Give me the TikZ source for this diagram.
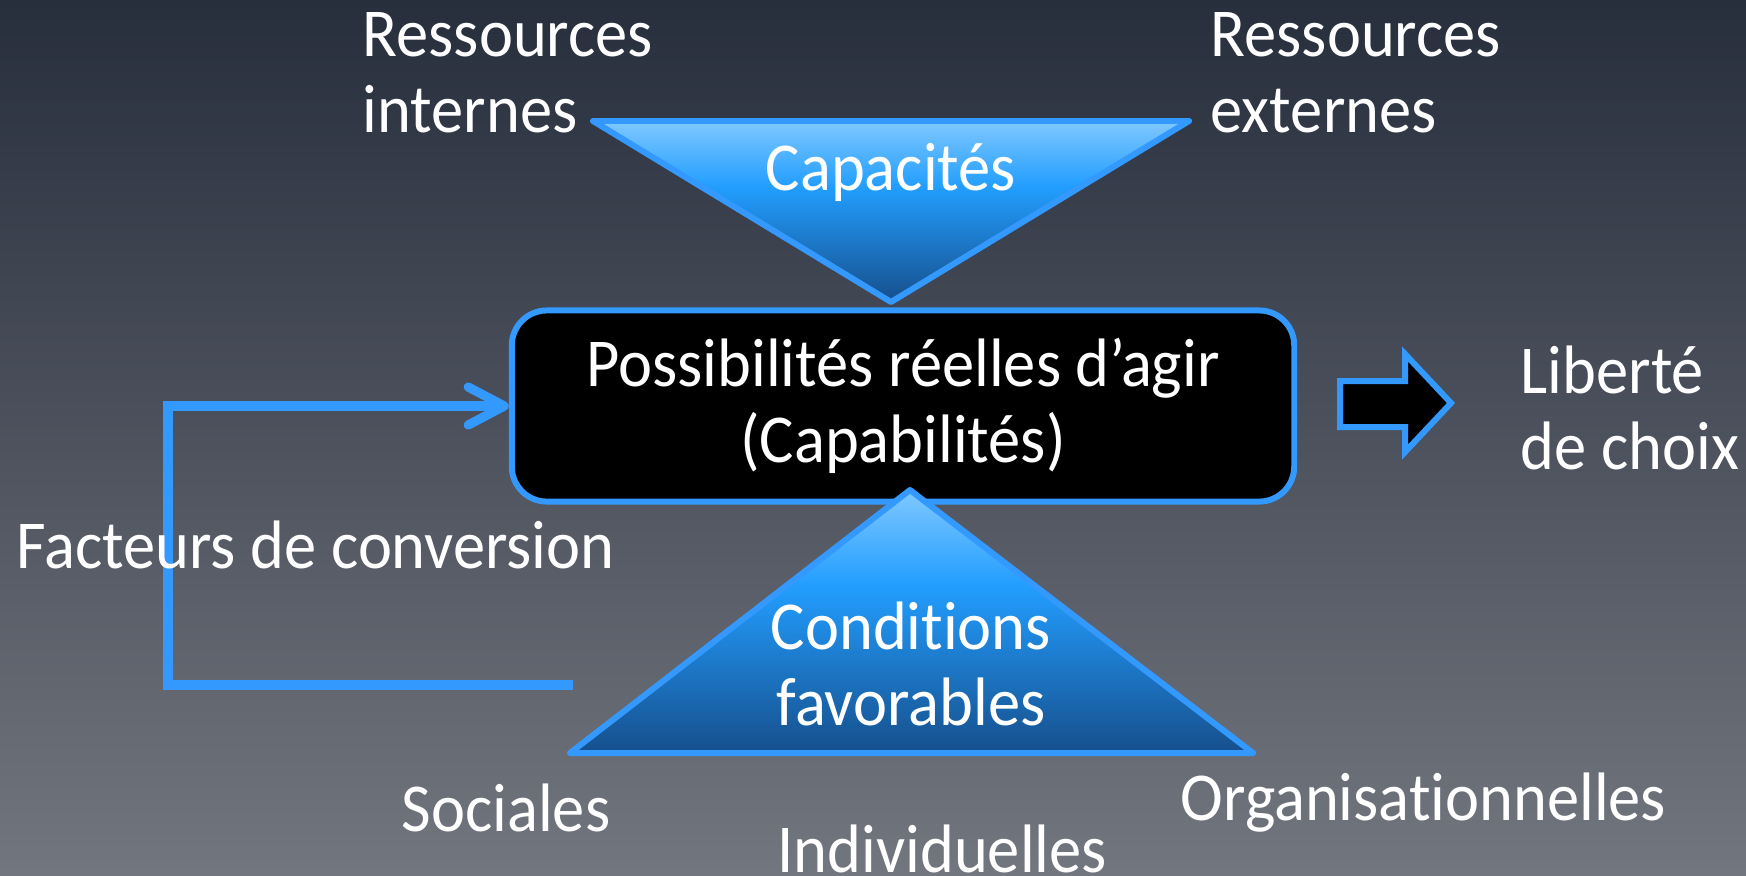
\documentclass[tikz,border=0pt]{standalone}
\usepackage{fontspec}
\setmainfont{Carlito}[FakeStretch=0.94,Ligatures=NoCommon]
\usetikzlibrary{arrows.meta}
\definecolor{fondhaut}{HTML}{272E3C}
\definecolor{fondbas}{HTML}{72767E}
\definecolor{bleu}{HTML}{3399FF}
\definecolor{bleuclair}{HTML}{80C8FF}
\definecolor{bleumoyen}{HTML}{229EFF}
\definecolor{bleufonce}{HTML}{164F8C}
\pgfdeclareverticalshading{degrade}{100bp}{color(0bp)=(bleufonce); color(25bp)=(bleufonce); color(57bp)=(bleumoyen); color(75bp)=(bleuclair); color(100bp)=(bleuclair)}

\begin{document}
\begin{tikzpicture}[x=0.01cm,y=-0.01cm]
        \tikzstyle{texte}=[text=white,inner sep=0pt,font=\fontsize{19.5}{21.6}\selectfont]
        \tikzstyle{triangle}=[draw=bleu,line width=1.7pt,line join=round,shading=degrade]
        \tikzstyle{boite}=[texte,draw=bleu,fill=black,line width=1.7pt,rounded corners=0.35cm,minimum width=7.82cm,minimum height=1.91cm,align=center]
        \tikzstyle{retour}=[draw=bleu,line width=2.6pt,-{Straight Barb[length=0.36cm,width=0.38cm,round]}]
        \tikzstyle{fleche}=[draw=bleu,fill=black,line width=1.7pt]
        \clip (0,0) rectangle (1746,875);
        \shade[top color=fondhaut,bottom color=fondbas] (0,0) rectangle (1746,875);
        % triangle du haut
        \coordinate (h1) at (593,121);
        \coordinate (h2) at (1189,121);
        \coordinate (h3) at (891,302);
        \shade[triangle] (h1) -- (h2) -- (h3) -- cycle;
        % possibilites
        \node[boite] (possib) at (903,406) {Possibilités réelles d’agir\\(Capabilités)};
        % triangle du bas
        \coordinate (b1) at (910,490);
        \coordinate (b2) at (570,753);
        \coordinate (b3) at (1253,753);
        \shade[triangle] (b1) -- (b3) -- (b2) -- cycle;
        % facteurs de conversion
        \coordinate (depart) at (573,685);
        \coordinate (coin) at (168,685);
        \draw[retour] (depart) -- (coin) |- (possib.west);
        \draw[fleche] (1340,381) -- (1405,381) -- (1405,354) -- (1451,403) -- (1405,452) -- (1405,427) -- (1340,427) -- cycle;
        \node[texte,anchor=base west,align=left] (resint) at (362,132) {Ressources\\internes};
        \node[texte,anchor=base west,align=left] (resext) at (1210,132) {Ressources\\externes};
        \node[texte,anchor=base] (capa) at (891,190) {Capacités};
        \node[texte,anchor=base west,align=left] (liberte) at (1520,469) {Liberté\\de choix};
        \node[texte,anchor=base west] (facteurs) at (16,568) {Facteurs de conversion};
        \node[texte,anchor=base,align=center] (cond) at (911,725) {Conditions\\favorables};
        \node[texte,anchor=base west] (sociales) at (401,831) {Sociales};
        \node[texte,anchor=base west] (indiv) at (777,872) {Individuelles};
        \node[texte,anchor=base west] (organ) at (1180,820) {Organisationnelles};
\end{tikzpicture}
\end{document}
